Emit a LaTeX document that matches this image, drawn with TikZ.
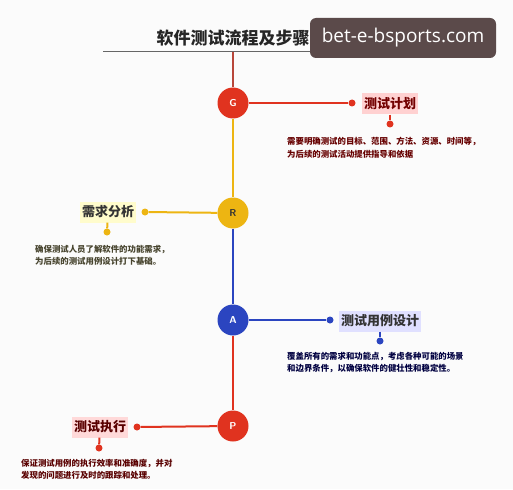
\documentclass[tikz,border=0pt]{standalone}
\usepackage{fontspec}
\newfontfamily\cjk{Noto Sans CJK SC}
\newfontfamily\wmfont{Open Sans}
\usepackage{xcolor}
\usetikzlibrary{positioning, calc}

\definecolor{lred}{HTML}{E0331F}
\definecolor{lyellow}{HTML}{EDB512}
\definecolor{lblue}{HTML}{2B45C0}
\definecolor{topline}{HTML}{B8463A}
\definecolor{wm}{HTML}{5B4A4A}

\begin{document}
\begin{tikzpicture}[
    x=1pt, y=-1pt,
    stage/.style={circle, fill=#1, minimum size=31pt, inner sep=0pt, text=white, font=\sffamily\bfseries},
    tag/.style={fill=#1, inner sep=2pt, minimum height=21pt, font=\cjk\bfseries\fontsize{13}{13}\selectfont},
    dot/.style={circle, fill=#1, minimum size=7pt, inner sep=0pt},
    note/.style={anchor=north west, align=left, inner sep=0pt, font=\cjk\bfseries\fontsize{8.4}{12.5}\selectfont},
    link/.style={line width=2pt, draw=#1}
]

\fill[white!97!gray] (0,0) rectangle (513,489);
\useasboundingbox (0,0) rectangle (513,489);

% title
\node[font=\cjk\bfseries\fontsize{17}{17}\selectfont, text=black!85] (title) at (233,38) {软件测试流程及步骤};
\coordinate (ruleL) at (103,52);
\coordinate (ruleR) at (362,52);
\draw[black!60, line width=1pt] (ruleL) -- (ruleR);

% main line
\coordinate (top) at (233,52);
\node[stage=lred] (G) at (233,103) {G};
\node[stage=lyellow, text=black!80] (R) at (233,213) {R};
\node[stage=lblue] (A) at (233,320) {A};
\node[stage=lred] (P) at (233,426) {P};

\draw[link=topline] (top) -- (G);
\draw[link=lyellow] (G) -- (R);
\draw[link=lblue] (R) -- (A);
\draw[link=lred] (A) -- (P);

% G
\node[dot=lred] (gdot) at (352,103) {};
\node[tag=red!18, text=red!45!black] (gtag) at (390,104) {测试计划};
\node[dot=lred] (gpin) at (390,124) {};
\node[note, text=red!40!black] (gnote) at (287,137) {需要明确测试的目标、范围、方法、资源、时间等，\\为后续的测试活动提供指导和依据};
\draw[link=lred] (G) -- (gdot);
\draw[link=lred] (gtag) -- (gpin);

% R
\node[dot=lyellow] (rdot) at (145,212) {};
\node[tag=yellow!20, text=black!80] (rtag) at (108,212) {需求分析};
\node[dot=lyellow] (rpin) at (107,232) {};
\node[note, text=olive!35!black] (rnote) at (35,245) {确保测试人员了解软件的功能需求，\\为后续的测试用例设计打下基础。};
\draw[link=lyellow] (R) -- (rdot);
\draw[link=lyellow] (rtag) -- (rpin);

% A
\node[dot=lblue] (adot) at (330,320) {};
\node[tag=blue!12, text=black!80] (atag) at (380,321) {测试用例设计};
\node[dot=lblue] (apin) at (380,341) {};
\node[note, text=blue!25!black] (anote) at (287,352) {覆盖所有的需求和功能点，考虑各种可能的场景\\和边界条件，以确保软件的健壮性和稳定性。};
\draw[link=lblue] (A) -- (adot);
\draw[link=lblue] (atag) -- (apin);

% P
\node[dot=lred] (pdot) at (137,427) {};
\node[tag=red!15, text=red!35!black] (ptag) at (100,427) {测试执行};
\node[dot=lred] (ppin) at (99,448) {};
\node[note, text=red!35!black] (pnote) at (21,459) {保证测试用例的执行效率和准确度，并对\\发现的问题进行及时的跟踪和处理。};
\draw[link=lred] (P) -- (pdot);
\draw[link=lred] (ptag) -- (ppin);

% watermark
\node[fill=wm, rounded corners=6pt, text=white, minimum width=186pt, minimum height=40pt, font=\wmfont\fontsize{19}{19}\selectfont] (mark) at (403,38) {bet-e-bsports.com};

\end{tikzpicture}
\end{document}
